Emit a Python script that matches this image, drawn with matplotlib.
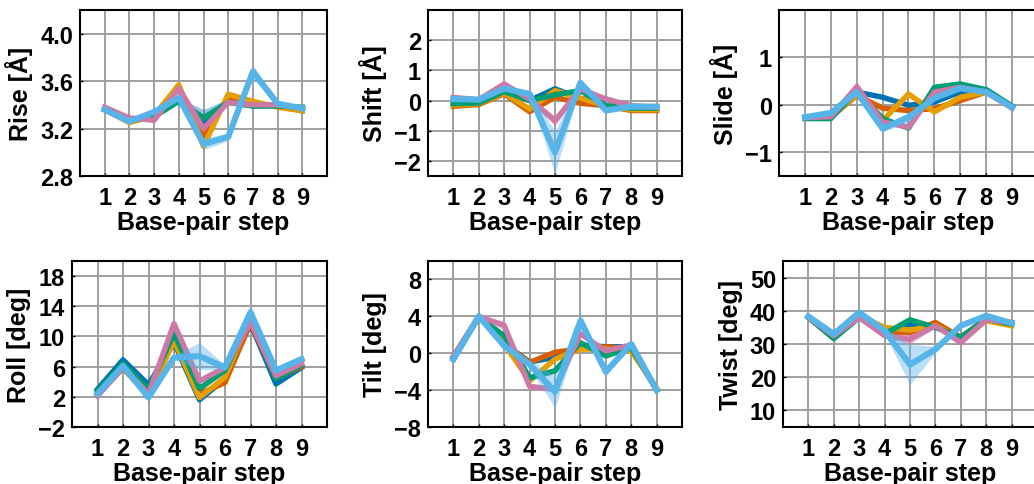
import matplotlib.pyplot as plt
import numpy as np

plt.rcParams['font.family'] = ['Liberation Sans', 'DejaVu Sans']
plt.rcParams['font.weight'] = 'bold'

# base-pair steps
steps = [1, 2, 3, 4, 5, 6, 7, 8, 9]

# one colour per trajectory (drawn in this order)
colors = ['#0072B2', '#D55E00', '#E69F00', '#009E73', '#CC79A7', '#56B4E9']

# means, one list per trajectory
rise = [
    [3.36, 3.27, 3.31, 3.45, 3.24, 3.44, 3.39, 3.40, 3.35],
    [3.36, 3.26, 3.30, 3.46, 3.14, 3.46, 3.41, 3.39, 3.36],
    [3.36, 3.25, 3.31, 3.57, 3.05, 3.49, 3.43, 3.38, 3.35],
    [3.36, 3.27, 3.30, 3.43, 3.29, 3.42, 3.39, 3.39, 3.38],
    [3.38, 3.29, 3.27, 3.54, 3.20, 3.42, 3.40, 3.40, 3.37],
    [3.36, 3.26, 3.34, 3.46, 3.07, 3.13, 3.68, 3.41, 3.37],
]
shift = [
    [-0.08, -0.05, 0.30, 0.00, 0.39, 0.06, 0.05, -0.20, -0.25],
    [-0.19, -0.13, 0.22, -0.37, 0.11, -0.09, -0.17, -0.33, -0.33],
    [-0.15, -0.10, 0.25, -0.28, 0.33, 0.08, -0.17, -0.30, -0.30],
    [-0.10, -0.08, 0.30, 0.00, 0.19, 0.33, -0.17, -0.25, -0.25],
    [0.10, 0.03, 0.55, 0.05, -0.67, 0.39, 0.05, -0.17, -0.22],
    [0.05, 0.03, 0.40, 0.22, -1.72, 0.59, -0.33, -0.20, -0.20],
]
slide = [
    [-0.28, -0.25, 0.27, 0.16, -0.01, 0.06, 0.27, 0.32, -0.03],
    [-0.28, -0.26, 0.20, -0.07, -0.12, -0.08, 0.09, 0.27, -0.05],
    [-0.28, -0.26, 0.22, -0.33, 0.23, -0.15, 0.16, 0.27, -0.05],
    [-0.29, -0.29, 0.30, -0.29, -0.49, 0.37, 0.44, 0.32, -0.03],
    [-0.27, -0.25, 0.38, -0.36, -0.47, 0.27, 0.37, 0.27, -0.07],
    [-0.26, -0.17, 0.27, -0.50, -0.26, 0.14, 0.35, 0.27, -0.05],
]
roll = [
    [3.0, 6.9, 3.6, 9.2, 1.6, 4.4, 11.7, 3.7, 5.9],
    [2.3, 5.8, 2.2, 9.5, 2.4, 3.9, 11.8, 4.5, 6.0],
    [2.5, 6.0, 2.0, 9.5, 1.9, 4.6, 12.6, 4.6, 6.8],
    [2.8, 6.4, 3.0, 10.4, 3.1, 5.5, 12.4, 4.4, 6.2],
    [2.1, 5.9, 2.4, 11.7, 4.1, 5.9, 11.9, 4.8, 6.4],
    [2.4, 6.1, 1.9, 7.2, 7.4, 5.9, 13.2, 5.5, 7.0],
]
tilt = [
    [-0.65, 4.0, 1.0, -0.95, -0.45, 0.9, 0.7, 0.7, -4.0],
    [-0.5, 4.0, 1.0, -1.0, 0.1, 0.5, 0.7, 0.5, -3.9],
    [-0.4, 4.0, 1.0, -3.0, -0.65, 0.45, 0.45, 0.25, -3.8],
    [-0.5, 3.9, 1.9, -2.65, -1.9, 1.15, -0.3, 0.6, -3.9],
    [-0.3, 4.0, 3.0, -3.6, -3.9, 2.1, 0.25, 0.9, -4.0],
    [-0.65, 4.0, 0.8, -1.2, -4.2, 3.5, -2.0, 1.0, -4.0],
]
twist = [
    [38.0, 32.0, 38.5, 33.0, 36.0, 35.5, 32.0, 37.5, 36.0],
    [38.0, 32.0, 38.5, 33.5, 33.4, 36.5, 32.0, 37.5, 36.0],
    [38.0, 32.0, 38.5, 35.0, 34.2, 35.5, 31.6, 37.0, 35.5],
    [38.0, 31.6, 38.0, 33.0, 37.3, 35.0, 32.0, 37.5, 36.0],
    [38.0, 32.5, 38.0, 32.5, 31.4, 35.5, 30.4, 37.3, 36.5],
    [38.3, 33.0, 39.5, 34.0, 23.8, 28.4, 35.5, 38.5, 36.3],
]

# standard deviations (shaded bands)
rise_sd = [
    [0.01, 0.01, 0.01, 0.01, 0.12, 0.01, 0.01, 0.01, 0.01],
    [0.01, 0.01, 0.01, 0.01, 0.03, 0.01, 0.01, 0.01, 0.01],
    [0.01, 0.01, 0.01, 0.02, 0.03, 0.02, 0.01, 0.01, 0.01],
    [0.01, 0.01, 0.01, 0.01, 0.03, 0.01, 0.01, 0.01, 0.01],
    [0.01, 0.02, 0.01, 0.02, 0.02, 0.01, 0.01, 0.01, 0.01],
    [0.01, 0.01, 0.01, 0.01, 0.05, 0.03, 0.06, 0.01, 0.01],
]
shift_sd = [
    [0.02, 0.02, 0.02, 0.02, 0.03, 0.02, 0.02, 0.02, 0.02],
    [0.02, 0.02, 0.02, 0.02, 0.03, 0.02, 0.02, 0.02, 0.02],
    [0.02, 0.02, 0.02, 0.04, 0.04, 0.02, 0.02, 0.02, 0.02],
    [0.02, 0.02, 0.02, 0.02, 0.03, 0.02, 0.02, 0.02, 0.02],
    [0.05, 0.02, 0.06, 0.03, 0.18, 0.03, 0.02, 0.02, 0.02],
    [0.03, 0.02, 0.03, 0.03, 0.72, 0.05, 0.04, 0.02, 0.02],
]
slide_sd = [
    [0.02, 0.02, 0.02, 0.02, 0.02, 0.02, 0.02, 0.02, 0.02],
    [0.02, 0.02, 0.02, 0.02, 0.02, 0.02, 0.02, 0.02, 0.02],
    [0.02, 0.02, 0.02, 0.03, 0.03, 0.02, 0.02, 0.02, 0.02],
    [0.02, 0.02, 0.02, 0.02, 0.03, 0.02, 0.02, 0.02, 0.02],
    [0.02, 0.02, 0.12, 0.04, 0.05, 0.02, 0.02, 0.02, 0.02],
    [0.02, 0.02, 0.03, 0.07, 0.10, 0.05, 0.02, 0.02, 0.02],
]
roll_sd = [
    [0.2, 0.2, 0.2, 0.2, 0.2, 0.2, 0.2, 0.2, 0.2],
    [0.2, 0.2, 0.2, 0.2, 0.3, 0.3, 0.2, 0.2, 0.2],
    [0.2, 0.2, 0.2, 0.3, 0.3, 0.3, 0.3, 0.2, 0.2],
    [0.2, 0.2, 0.2, 0.3, 0.3, 0.2, 0.2, 0.2, 0.2],
    [0.2, 0.2, 0.2, 0.3, 0.3, 0.2, 0.3, 0.2, 0.2],
    [0.2, 0.2, 0.2, 0.3, 1.8, 0.3, 0.9, 0.3, 0.2],
]
tilt_sd = [
    [0.1, 0.1, 0.1, 0.2, 0.2, 0.1, 0.1, 0.1, 0.1],
    [0.1, 0.1, 0.1, 0.2, 0.2, 0.1, 0.1, 0.1, 0.1],
    [0.1, 0.1, 0.1, 0.2, 0.2, 0.1, 0.1, 0.1, 0.1],
    [0.1, 0.1, 0.2, 0.3, 0.3, 0.2, 0.1, 0.1, 0.1],
    [0.1, 0.1, 0.5, 0.3, 0.3, 0.3, 0.2, 0.1, 0.1],
    [0.1, 0.1, 0.2, 0.5, 1.7, 0.9, 0.5, 0.2, 0.1],
]
twist_sd = [
    [0.3, 0.3, 0.3, 0.3, 0.5, 0.3, 0.3, 0.3, 0.3],
    [0.3, 0.3, 0.3, 0.3, 0.5, 0.4, 0.3, 0.3, 0.3],
    [0.3, 0.3, 0.3, 0.4, 0.6, 0.3, 0.3, 0.3, 0.3],
    [0.3, 0.3, 0.3, 0.3, 0.5, 0.3, 0.3, 0.3, 0.3],
    [0.3, 0.3, 0.3, 0.5, 1.5, 0.4, 0.4, 0.3, 0.3],
    [0.3, 0.3, 0.3, 1.0, 6.0, 1.0, 0.4, 0.3, 0.3],
]

panels = [
    ('Rise [Å]', rise, rise_sd, (2.8, 4.2), [2.8, 3.2, 3.6, 4.0], ['2.8', '3.2', '3.6', '4.0']),
    ('Shift [Å]', shift, shift_sd, (-2.5, 3), [-2, -1, 0, 1, 2], None),
    ('Slide [Å]', slide, slide_sd, (-1.5, 2), [-1, 0, 1], None),
    ('Roll [deg]', roll, roll_sd, (-2, 20), [-2, 2, 6, 10, 14, 18], None),
    ('Tilt [deg]', tilt, tilt_sd, (-8, 10), [-8, -4, 0, 4, 8], None),
    ('Twist [deg]', twist, twist_sd, (5, 55), [10, 20, 30, 40, 50], None),
]

# axes boxes in pixels: left, right, top, bottom
boxes = [
    (80, 327, 11, 177), (428, 682, 11, 177), (779, 1038, 11, 177),
    (72, 327, 262, 428), (428, 682, 262, 428), (783, 1037, 262, 428),
]

W, H = 1034, 485
fig = plt.figure(figsize=(W / 100, H / 100), dpi=100)

for (label, means, sds, ylim, yticks, ylabels), (l, r, t, b) in zip(panels, boxes):
    ax = fig.add_axes([l / W, 1 - b / H, (r - l) / W, (b - t) / H])
    for k, (m, s) in enumerate(zip(means, sds)):
        m = np.array(m)
        s = np.array(s)
        lw = 4.4 if k == 5 else 3.9
        ax.fill_between(steps, m - s, m + s, color=colors[k], alpha=0.42,
                        linewidth=0, zorder=2 + k)
        ax.plot(steps, m, color=colors[k], lw=lw, zorder=2 + k)
    ax.set_xlim(0, 10)
    ax.set_ylim(*ylim)
    ax.set_xticks(steps)
    ax.set_yticks(yticks)
    if ylabels is not None:
        ax.set_yticklabels(ylabels)
    ax.grid(True, color='#9f9f9f', lw=1.4, zorder=1)
    ax.set_axisbelow(True)
    ax.tick_params(direction='in', length=2, width=1, labelsize=17, color='black')
    ax.tick_params(axis='x', pad=7)
    ax.tick_params(axis='y', pad=5)
    for sp in ax.spines.values():
        sp.set_linewidth(1.5)
        sp.set_zorder(10)
    ax.set_xlabel('Base-pair step', fontsize=18, fontweight='bold', labelpad=1)
    ax.set_ylabel(label, fontsize=18, fontweight='bold', labelpad=5)

fig.savefig('out.png', dpi=100)
